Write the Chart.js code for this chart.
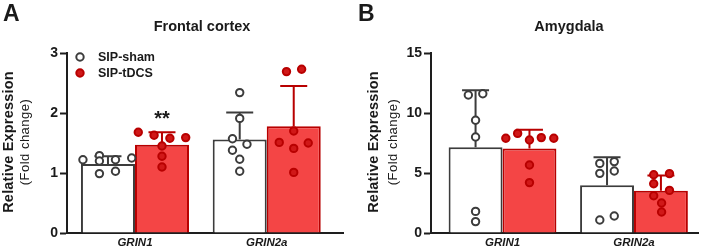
<!DOCTYPE html>
<html>
<head>
<meta charset="utf-8">
<script src="https://cdn.jsdelivr.net/npm/chart.js@4.4.1/dist/chart.umd.min.js"></script>
<style>
  html, body { margin: 0; padding: 0; background: #fff; }
  #wrap { position: relative; width: 706px; height: 250px; }
  .panel { position: absolute; top: 0; width: 353px; height: 250px; }
</style>
</head>
<body>
<div id="wrap">
  <div class="panel" style="left:0"><canvas id="chartA" width="353" height="250"></canvas></div>
  <div class="panel" style="left:353px"><canvas id="chartB" width="353" height="250"></canvas></div>
</div>
<script>
const genes = ["GRIN1", "GRIN2a"];
const seriesNames = ["SIP-sham", "SIP-tDCS"];

// Frontal cortex (panel A)
const cortexShamMean = [1.15, 1.56];
const cortexShamSD = [0.13, 0.45];
const cortexTdcsMean = [1.47, 1.78];
const cortexTdcsSD = [0.21, 0.67];
const cortexShamPts = [[1.22, 1.29, 1.20, 0.99, 1.22, 1.03, 1.25], [2.34, 1.91, 1.57, 1.48, 1.38, 1.23, 1.03]];
const cortexTdcsPts = [[1.68, 1.63, 1.58, 1.59, 1.45, 1.28, 1.10], [2.69, 2.73, 1.70, 1.51, 1.41, 1.50, 1.01]];
const cortexTicks = [0, 1, 2, 3];

// Amygdala (panel B)
const amygShamMean = [7.15, 3.97];
const amygShamSD = [4.75, 2.35];
const amygTdcsMean = [7.05, 3.52];
const amygTdcsSD = [1.55, 1.27];
const amygShamPts = [[11.5, 11.6, 9.4, 8.0, 1.8, 0.95], [5.8, 5.95, 4.97, 5.17, 1.08, 1.42]];
const amygTdcsPts = [[7.9, 8.3, 7.75, 7.95, 7.9, 5.67, 4.2], [4.85, 4.95, 4.1, 3.55, 3.1, 2.5, 1.75]];
const amygTicks = [0, 5, 10, 15];

// horizontal scatter of the individual points inside each bar (x axis units)
const cortexShamJit = [[-0.19, -0.065, -0.065, -0.065, 0.057, 0.057, 0.18], [0, 0, -0.055, 0.055, -0.055, 0, 0]];
const cortexTdcsJit = [[-0.18, -0.06, 0.06, 0.18, 0, 0, 0], [-0.055, 0.06, 0, -0.11, 0, 0.11, 0]];
const amygShamJit = [[-0.055, 0.055, 0, 0, 0, 0], [-0.055, 0.055, -0.055, 0.055, -0.055, 0.055]];
const amygTdcsJit = [[-0.18, -0.09, 0, 0.09, 0.185, 0, 0], [-0.055, 0.065, -0.055, 0.065, -0.055, 0.005, 0.005]];

const FONT = "'Liberation Sans', Arial, Helvetica, sans-serif";
const TXT = "#1a1a1a";
const AX = "#1e1e1e";
const SHAM = "#3c3c3c";
const RED_FILL = "#f44545";
const RED_EDGE = "#b80000";
const RED_DOT = "#d01818";
const CAT_PCT = 0.82;

function toPoints(pts, jit, off) {
  const out = [];
  pts.forEach((arr, i) => arr.forEach((v, k) => out.push({ x: i + off + jit[i][k], y: v })));
  return out;
}

// error bars drawn right after each bar dataset, so the dots sit on top
const errorBars = {
  id: "errorBars",
  afterDatasetDraw(chart, args) {
    const ds = chart.data.datasets[args.index];
    if (!ds.sd) return;
    const ctx = chart.ctx;
    const y = chart.scales.y;
    ctx.save();
    ctx.strokeStyle = ds.borderColor;
    ctx.lineWidth = 2;
    args.meta.data.forEach((bar, i) => {
      const top = y.getPixelForValue(ds.data[i].y + ds.sd[i]);
      ctx.beginPath();
      ctx.moveTo(bar.x, bar.y);
      ctx.lineTo(bar.x, top);
      ctx.moveTo(bar.x - 13.5, top);
      ctx.lineTo(bar.x + 13.5, top);
      ctx.stroke();
    });
    ctx.restore();
  }
};

const decorations = {
  id: "decorations",
  afterDraw(chart, args, o) {
    const ctx = chart.ctx;
    const area = chart.chartArea;
    ctx.save();
    ctx.fillStyle = TXT;
    // panel letter
    ctx.font = "bold 23px " + FONT;
    ctx.textAlign = "left";
    ctx.textBaseline = "alphabetic";
    ctx.fillText(o.letter, o.letterX, 21);
    // title
    ctx.font = "bold 14.5px " + FONT;
    ctx.textAlign = "center";
    ctx.fillText(o.title, o.titleX, 31);
    // y axis title, two lines
    const cy = (area.top + area.bottom) / 2 - 1;
    ctx.save();
    ctx.translate(o.yTitleX, cy);
    ctx.rotate(-Math.PI / 2);
    ctx.textBaseline = "middle";
    ctx.font = "bold 14.5px " + FONT;
    ctx.letterSpacing = "0.2px";
    ctx.fillText("Relative Expression", 0, 0);
    ctx.restore();
    ctx.save();
    ctx.translate(o.yTitleX2, cy);
    ctx.rotate(-Math.PI / 2);
    ctx.textBaseline = "middle";
    ctx.font = "13px " + FONT;
    ctx.letterSpacing = "0.5px";
    ctx.fillText("(Fold change)", 0, 0);
    ctx.restore();
    // legend inside the plot
    if (o.legend) {
      const styles = [[ "#fff", SHAM ], [ RED_DOT, RED_EDGE ]];
      seriesNames.forEach((name, i) => {
        const ly = area.top + 4 + i * 16;
        ctx.beginPath();
        ctx.arc(area.left + 13, ly, 3.7, 0, Math.PI * 2);
        ctx.fillStyle = styles[i][0];
        ctx.fill();
        ctx.lineWidth = 2;
        ctx.strokeStyle = styles[i][1];
        ctx.stroke();
        ctx.fillStyle = TXT;
        ctx.font = "bold 12.5px " + FONT;
        ctx.textAlign = "left";
        ctx.textBaseline = "middle";
        ctx.fillText(name, area.left + 31, ly + 0.5);
      });
    }
    // significance marks
    (o.marks || []).forEach(m => {
      const ds = chart.data.datasets[m.dataset];
      const bar = chart.getDatasetMeta(m.dataset).data[m.index];
      const top = chart.scales.y.getPixelForValue(ds.data[m.index].y + ds.sd[m.index]);
      ctx.fillStyle = TXT;
      ctx.font = "bold 20px " + FONT;
      ctx.textAlign = "center";
      ctx.textBaseline = "alphabetic";
      ctx.fillText(m.text, bar.x, top - 7);
    });
    ctx.restore();
  }
};

function makePanel(id, p) {
  const off = CAT_PCT / 4;
  return new Chart(document.getElementById(id), {
    type: "bar",
    data: {
      datasets: [
        {
          type: "bar", label: seriesNames[0],
          data: genes.map((g, i) => ({ x: i, y: p.shamMean[i] })), sd: p.shamSD,
          backgroundColor: "#ffffff", borderColor: SHAM, borderWidth: 2,
          categoryPercentage: CAT_PCT, barPercentage: 1, order: 3
        },
        {
          type: "bar", label: seriesNames[1],
          data: genes.map((g, i) => ({ x: i, y: p.tdcsMean[i] })), sd: p.tdcsSD,
          backgroundColor: RED_FILL, borderColor: RED_EDGE, borderWidth: 2,
          categoryPercentage: CAT_PCT, barPercentage: 1, order: 3
        },
        {
          type: "scatter", label: seriesNames[0] + " points",
          data: toPoints(p.shamPts, p.shamJit, -off),
          pointRadius: 3.7, pointBorderWidth: 2,
          pointBackgroundColor: "#ffffff", pointBorderColor: SHAM, order: 1
        },
        {
          type: "scatter", label: seriesNames[1] + " points",
          data: toPoints(p.tdcsPts, p.tdcsJit, off),
          pointRadius: 3.7, pointBorderWidth: 2,
          pointBackgroundColor: RED_DOT, pointBorderColor: RED_EDGE, order: 1
        }
      ]
    },
    options: {
      responsive: false,
      animation: false,
      layout: { padding: { top: 53, right: p.padRight, left: 0, bottom: 0 } },
      plugins: {
        legend: { display: false },
        tooltip: { enabled: false },
        decorations: p.deco
      },
      scales: {
        x: {
          type: "linear", min: p.xMin, max: p.xMax, offset: false,
          grid: { display: false, drawTicks: false },
          border: { display: true, color: AX, width: 2 },
          afterBuildTicks: s => { s.ticks = genes.map((g, i) => ({ value: i })); },
          afterFit: s => { s.height = 17; },
          ticks: {
            callback: v => genes[v], autoSkip: false, maxRotation: 0, padding: 3,
            color: TXT, font: { family: FONT, size: 11.5, weight: "bold", style: "italic" }
          }
        },
        y: {
          min: 0, max: p.ticks[p.ticks.length - 1],
          afterBuildTicks: s => { s.ticks = p.ticks.map(v => ({ value: v })); },
          afterFit: s => { s.width = p.axisW; },
          grid: { drawOnChartArea: false, drawTicks: true, tickLength: 7, tickWidth: 2, tickColor: AX, color: AX },
          border: { color: AX, width: 2 },
          ticks: { padding: 2, color: TXT, font: { family: FONT, size: 14, weight: "bold" } }
        }
      }
    },
    plugins: [errorBars, decorations]
  });
}

makePanel("chartA", {
  shamMean: cortexShamMean, shamSD: cortexShamSD, tdcsMean: cortexTdcsMean, tdcsSD: cortexTdcsSD,
  shamPts: cortexShamPts, tdcsPts: cortexTdcsPts, shamJit: cortexShamJit, tdcsJit: cortexTdcsJit,
  ticks: cortexTicks, xMin: -0.516, xMax: 1.579, axisW: 67, padRight: 10,
  deco: { letter: "A", letterX: 3, title: "Frontal cortex", titleX: 202, yTitleX: 9, yTitleX2: 25,
          legend: true, marks: [{ dataset: 1, index: 0, text: "**" }] }
});

makePanel("chartB", {
  shamMean: amygShamMean, shamSD: amygShamSD, tdcsMean: amygTdcsMean, tdcsSD: amygTdcsSD,
  shamPts: amygShamPts, tdcsPts: amygTdcsPts, shamJit: amygShamJit, tdcsJit: amygTdcsJit,
  ticks: amygTicks, xMin: -0.544, xMax: 1.487, axisW: 78, padRight: 8,
  deco: { letter: "B", letterX: 5, title: "Amygdala", titleX: 216, yTitleX: 21, yTitleX2: 40,
          legend: false, marks: [] }
});
</script>
</body>
</html>
